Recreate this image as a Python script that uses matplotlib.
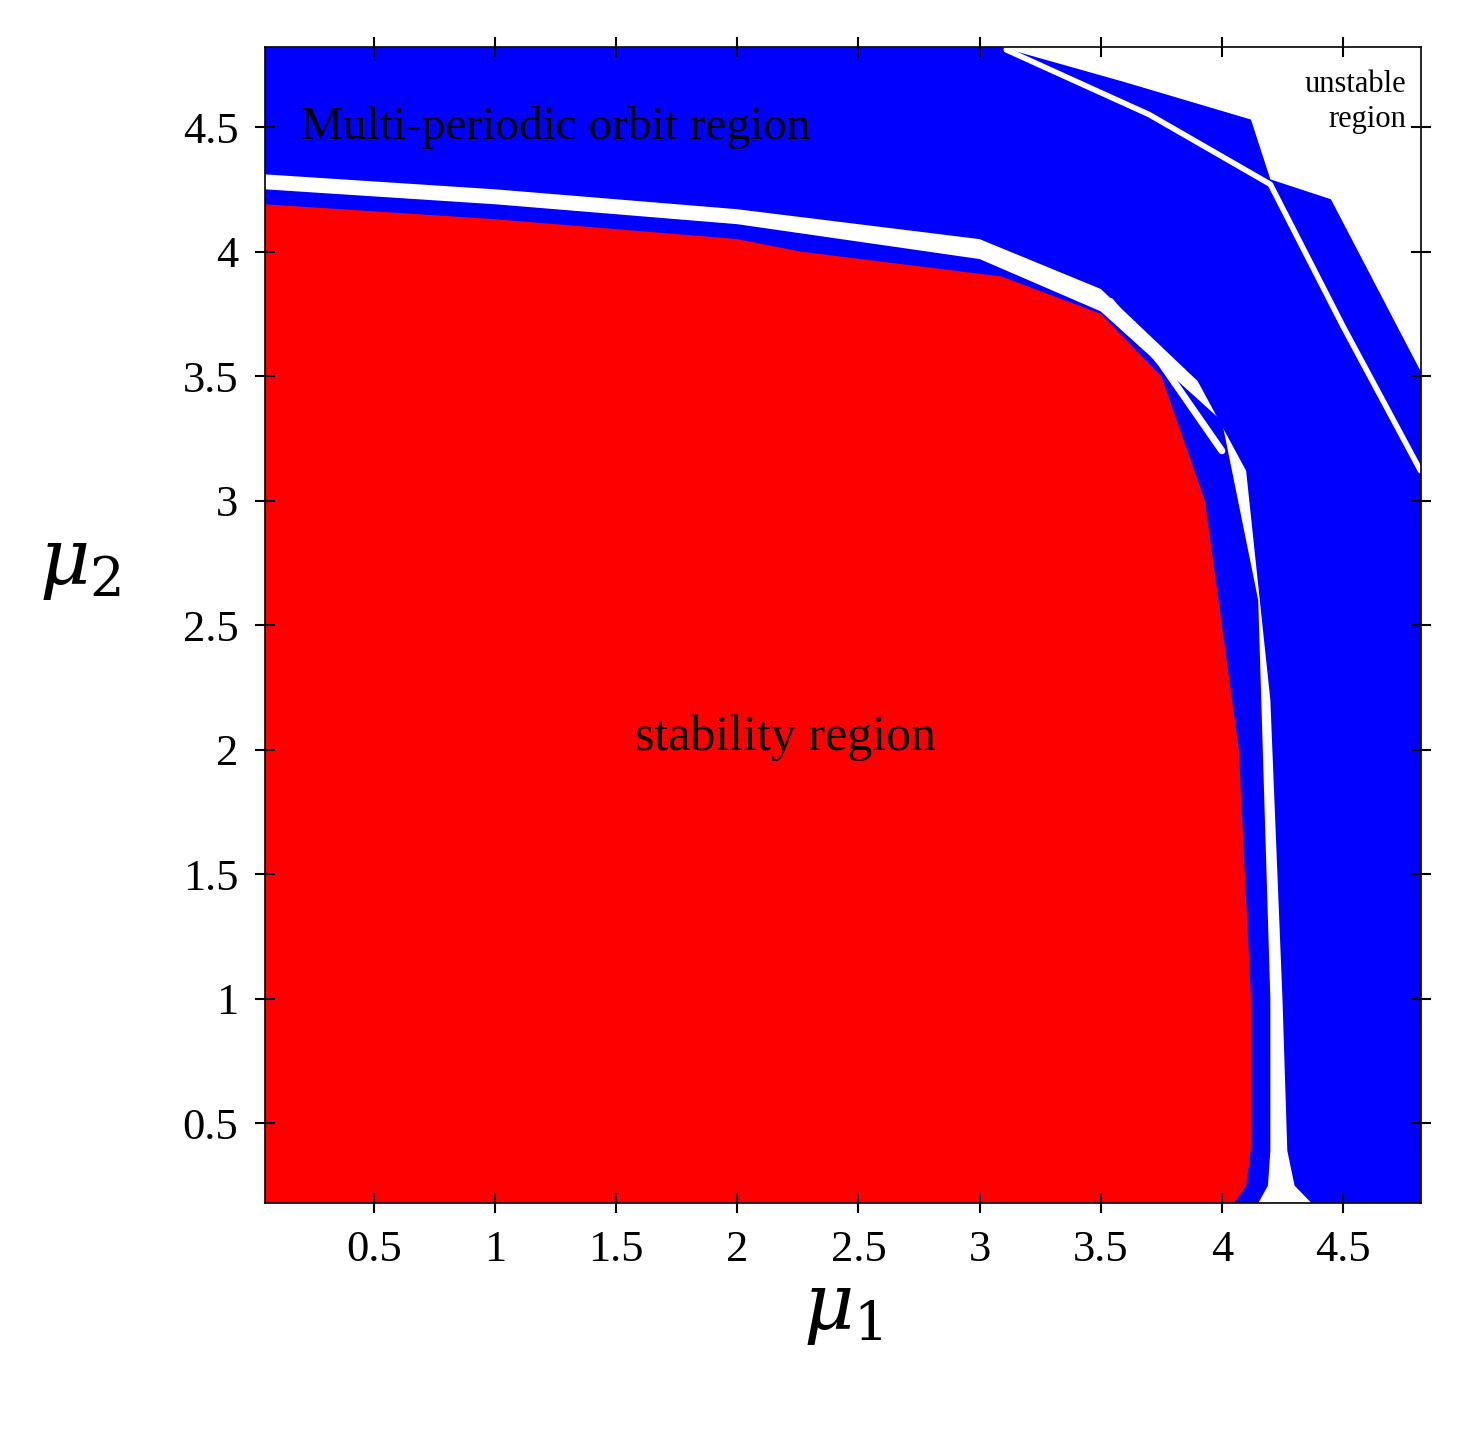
import matplotlib.pyplot as plt
import numpy as np

plt.rcParams['font.family'] = ['Liberation Serif', 'DejaVu Serif']
plt.rcParams['mathtext.fontset'] = 'dejavuserif'

xmin, xmax = 0.05, 4.82
ymin, ymax = 0.18, 4.82

# outer edge of the multi-periodic region (towards unstable region)
outer_x = [0.05, 3.09, 3.6, 4.12, 4.2, 4.45, 4.82, 4.82]
outer_y = [4.82, 4.82, 4.68, 4.53, 4.29, 4.21, 3.52, 0.18]

# outer edge of the white gap
gap_out_x = [0.05, 1.0, 2.0, 3.0, 3.5, 3.9, 4.1, 4.2, 4.25, 4.27, 4.3, 4.37]
gap_out_y = [4.31, 4.25, 4.17, 4.05, 3.85, 3.48, 3.12, 2.2, 1.0, 0.39, 0.25, 0.18]

# inner edge of the white gap (outer edge of thin blue band)
gap_in_x = [0.05, 1.0, 2.0, 3.0, 3.5, 4.0, 4.15, 4.2, 4.2, 4.19, 4.15]
gap_in_y = [4.25, 4.19, 4.11, 3.97, 3.76, 3.32, 2.6, 1.0, 0.39, 0.25, 0.18]

# boundary of stability region
red_x = [0.05, 1.0, 2.0, 2.26, 3.09, 3.5, 3.75, 3.93, 4.07, 4.12, 4.12, 4.1, 4.05]
red_y = [4.19, 4.13, 4.05, 4.0, 3.9, 3.75, 3.5, 3.0, 2.0, 1.0, 0.4, 0.25, 0.18]

# white stripes inside the multi-periodic region
stripe1_x = [3.54, 3.75, 4.0]
stripe1_y = [3.8, 3.55, 3.2]
stripe2_x = [3.11, 3.7, 4.2, 4.5, 4.82]
stripe2_y = [4.81, 4.55, 4.27, 3.7, 3.12]

fig = plt.figure(figsize=(14.63, 14.34), dpi=100)
ax = fig.add_axes([0.181, 0.161, 0.79, 0.806])

def under(xs, ys):
    return [xmin] + xs + [xmin], [ymin] + ys[:-1] + [ymin, ymin] if False else None

def region(xs, ys):
    px = list(xs) + [xs[-1], xmin]
    py = list(ys) + [ymin, ymin]
    return px, py

for (xs, ys), c in [((outer_x, outer_y), 'blue'), ((gap_out_x, gap_out_y), 'white'),
                    ((gap_in_x, gap_in_y), 'blue'), ((red_x, red_y), 'red')]:
    px, py = region(xs, ys)
    ax.fill(px, py, color=c, lw=0)

ax.plot(stripe1_x, stripe1_y, color='white', lw=5, solid_capstyle='round')
ax.plot(stripe2_x, stripe2_y, color='white', lw=4, solid_capstyle='round')

ax.text(0.2, 4.5, 'Multi-periodic orbit region', fontsize=34, va='center', ha='left')
ax.text(2.2, 2.05, 'stability region', fontsize=36, va='center', ha='center')
ax.text(4.76, 4.6, 'unstable\nregion', fontsize=22, va='center', ha='right',
        linespacing=1.3, multialignment='right')

ax.set_xlim(xmin, xmax)
ax.set_ylim(ymin, ymax)
ticks = [0.5, 1, 1.5, 2, 2.5, 3, 3.5, 4, 4.5]
labels = ['0.5', '1', '1.5', '2', '2.5', '3', '3.5', '4', '4.5']
ax.set_xticks(ticks, labels)
ax.set_yticks(ticks, labels)
ax.tick_params(direction='inout', length=14, width=1.5, labelsize=32,
               top=True, right=True, pad=12)
ax.set_xlabel(r'$\mu_1$', fontsize=56)
ax.set_ylabel(r'$\mu_2$', fontsize=56, rotation=0, labelpad=30)
ax.yaxis.set_label_coords(-0.16, 0.52)
for s in ax.spines.values():
    s.set_linewidth(1.2)

fig.savefig('out.png', dpi=100)
